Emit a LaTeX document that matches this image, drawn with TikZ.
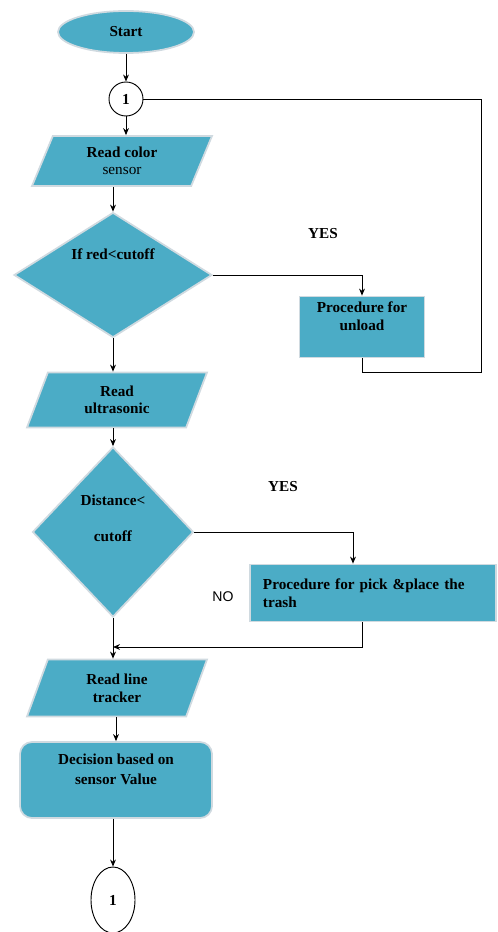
\documentclass[tikz,border=0pt]{standalone}
\usepackage{fontspec}
\setmainfont{Liberation Serif}
\setsansfont{Liberation Sans}
\usetikzlibrary{shapes.geometric,arrows.meta}
\definecolor{boxblue}{RGB}{75,172,198}
\definecolor{rim}{RGB}{208,218,224}

\begin{document}
\begin{tikzpicture}[x=0.03cm,y=-0.03cm,>={Stealth[length=6pt,width=5pt]},line width=0.8pt,
	font=\bfseries\fontsize{13}{15}\selectfont,
	shade/.style={draw=rim,line width=1.5pt,fill=boxblue},
	term/.style={shade,ellipse,minimum width=4.08cm,minimum height=1.26cm},
	io/.style={shade,trapezium,trapezium left angle=60,trapezium right angle=120,trapezium stretches body,
		minimum width=5.4cm,minimum height=1.5cm,align=center},
	decide/.style={shade,diamond,inner sep=0pt},
	proc/.style={shade,rectangle,align=center},
	conn/.style={draw,fill=white,line width=0.8pt,inner sep=0pt}]
	\useasboundingbox (0,0) rectangle (497,932);
	% main column
	\node[term] (start) at (126,32) {Start};
	\node[conn,circle,minimum size=1.02cm] (c1) at (126,99) {1};
	\node[io] (rd1) at (122,161) {Read color\\{\mdseries sensor}};
	\node[decide,minimum width=5.94cm,minimum height=3.75cm] (d1) at (113,275) {\raisebox{13pt}[0pt][0pt]{If red<cutoff}};
	\node[io,minimum height=1.65cm] (rd2) at (117,400) {Read\\ultrasonic};
	\node[decide,minimum width=4.83cm,minimum height=5.1cm] (d2) at (113,532)
		{\raisebox{23pt}[0pt][0pt]{\begin{tabular}[t]{@{}c@{}}Distance<\\[16pt]cutoff\end{tabular}}};
	\node[io,minimum height=1.71cm] (rd3) at (117,688) {Read line\\tracker};
	\node[proc,rounded corners=0.36cm,minimum width=5.76cm,minimum height=2.28cm] (dec) at (116,780) {Decision based on\\[2pt]sensor Value\\[4pt]};
	\node[conn,ellipse,minimum width=1.32cm,minimum height=1.98cm] (c2) at (113,900) {1};
	% side boxes
	\node[proc,minimum width=3.75cm,minimum height=1.83cm] (unload) at (362,327) {Procedure for\\unload\\[4pt]};
	\node[proc,align=left,text width=6.6cm,inner xsep=0.36cm,minimum width=7.38cm,minimum height=1.71cm] (pick) at (373,593)
		{Procedure for pick \&place the\\trash};
	\node (yes1) at (323,234) {YES};
	\node (yes2) at (283,487) {YES};
	\node[font=\sffamily\fontsize{12}{14}\selectfont] (no) at (223,597) {NO};
	\coordinate (back) at (481,372);
	\coordinate (merge) at (113,647);
	% connectors
	\draw[->] (start) -- (c1);
	\draw[->] (c1) -- (c1 |- rd1.north);
	\draw[->] (rd1.south -| d1.north) -- (d1.north);
	\draw[->] (d1.east) -| (unload.north);
	\draw[->] (d1.south) -- (d1.south |- rd2.north);
	\draw (unload.south) |- (back) |- (c1.east);
	\draw[->] (rd2.south -| d2.north) -- (d2.north);
	\draw[->] (d2.east) -| ([xshift=-0.6cm]pick.north);
	\draw[->] (d2.south) -- (d2.south |- rd3.north);
	\draw[->] ([xshift=-0.33cm]pick.south) |- (merge);
	\draw[->] (rd3.south -| dec.north) -- (dec.north);
	\draw[->] (dec.south -| c2.north) -- (c2.north);
\end{tikzpicture}
\end{document}
